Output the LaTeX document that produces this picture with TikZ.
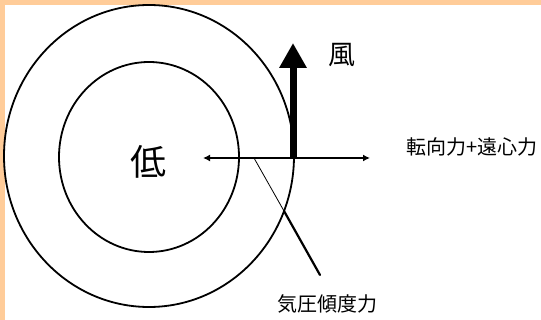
\documentclass[tikz,border=0pt]{standalone}
\usepackage{fontspec}
\newfontfamily\jp{Noto Sans CJK JP}
\usetikzlibrary{arrows.meta}
\definecolor{peach}{RGB}{255,204,153}
\begin{document}
\begin{tikzpicture}[x=1pt,y=-1pt,
  ring/.style={line width=1.8pt},
  lbl/.style={font=\jp\fontsize{20}{20}\selectfont, inner sep=0pt},
  biglbl/.style={font=\jp\fontsize{36}{36}\selectfont, inner sep=0pt},
  windlbl/.style={font=\jp\fontsize{27}{27}\selectfont, inner sep=0pt},
  force/.style={line width=1.5pt, {Latex[length=7pt,width=7pt]}-{Latex[length=7pt,width=7pt]}},
  windarrow/.style={line width=7pt, -{Triangle[length=25pt,width=26pt]}},
  pgthin/.style={line width=0.8pt},
  pgthick/.style={line width=2.2pt}]
\useasboundingbox (0,0) rectangle (541,320);
\fill[white] (0,0) rectangle (541,320);
\fill[peach] (0,0) rectangle (541,5);
\fill[peach] (0,0) rectangle (5,320);
% isobars
\draw[ring] (149,156) ellipse [x radius=145, y radius=151];
\draw[ring] (149,157) ellipse [x radius=90, y radius=95];
% labels
\node[biglbl] (low) at (148.5,162) {低};
\node[windlbl] (wind) at (342,55) {風};
\node[lbl] (cf) at (472,147) {転向力+遠心力};
\node[lbl] (pg) at (327,304) {気圧傾度力};
% coordinates
\coordinate (hl) at (203,158);
\coordinate (hr) at (370,158);
\coordinate (wb) at (293,158);
\coordinate (wt) at (293,43);
\coordinate (p1) at (254,158);
\coordinate (p2) at (284,211);
\coordinate (p3) at (320,275);
% forces
\draw[force] (hl) -- (hr);
\draw[windarrow] (wb) -- (wt);
\draw[pgthin] (p1) -- (p2);
\draw[pgthick, line cap=round] (p2) -- (p3);
\end{tikzpicture}
\end{document}
